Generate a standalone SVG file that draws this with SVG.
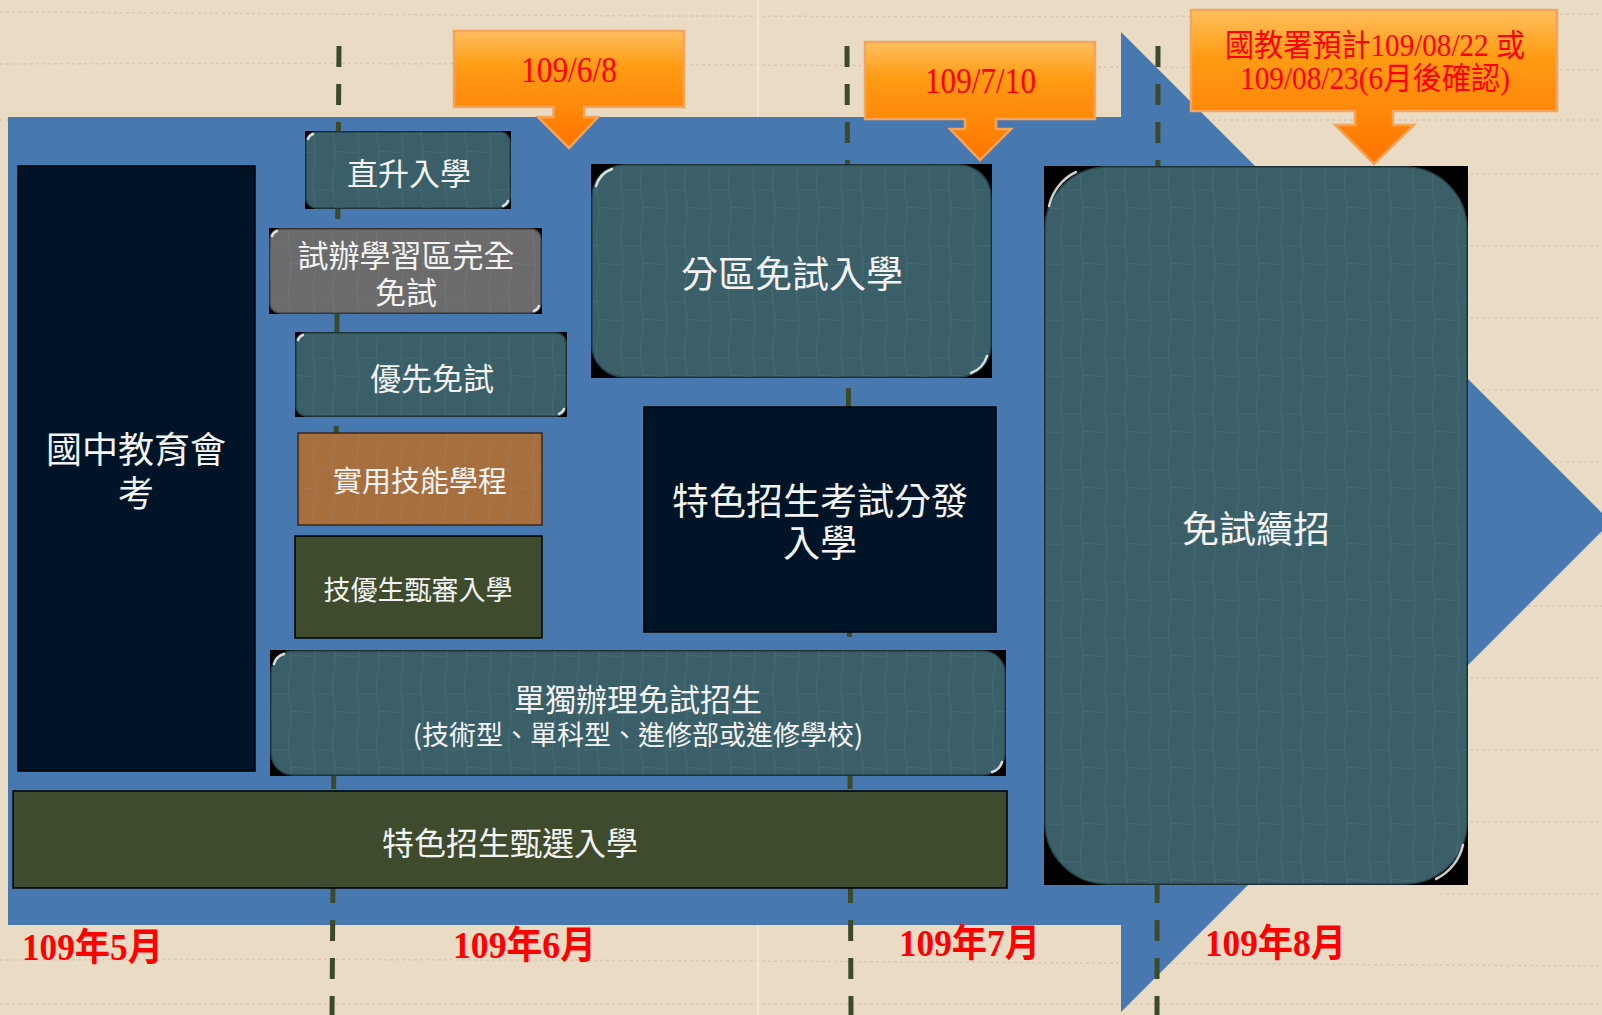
<svg xmlns="http://www.w3.org/2000/svg" width="1602" height="1015" viewBox="0 0 1602 1015">
<style>
.bgline{stroke:#d3c3ab;stroke-width:1.5;stroke-dasharray:3 3;fill:none;opacity:.8}
.dash{stroke:#3c4a2b;stroke-width:5;stroke-dasharray:21 17;fill:none}
.frame{fill:#000}
.teal{fill:#3b5f68;stroke:#27434a;stroke-width:1.5}
.gray{fill:#6b6b6b;stroke:#4a4a4a;stroke-width:1.5}
.tex{fill:url(#crackle)}
.navy{fill:#001428;stroke:#000;stroke-width:1.5}
.olive{fill:#3f4b2d;stroke:#000;stroke-width:1.5}
.brown{fill:#a86f3e;stroke:#3a2614;stroke-width:1.5}
.glint{fill:none;stroke:#fff;stroke-width:2.5;stroke-linecap:round;opacity:.8}
.lbl{font-family:"Noto Sans CJK TC","Noto Sans CJK SC",sans-serif;fill:#f3f3f3;text-anchor:middle}
.call{fill:url(#og);stroke:#f3a55c;stroke-width:2.5}
.ctxt{font-family:"Liberation Serif","Noto Sans CJK TC",serif;fill:#ff0000}
.mon{font-family:"Liberation Serif","Noto Sans CJK TC",serif;font-weight:bold;fill:#ff0000;font-size:38px}
</style>
<defs>
<linearGradient id="og" x1="0" y1="0" x2="0" y2="1">
<stop offset="0" stop-color="#ffbf5e"/>
<stop offset="0.3" stop-color="#ff9c14"/>
<stop offset="1" stop-color="#ff7400"/>
</linearGradient>
<pattern id="crackle" width="44" height="56" patternUnits="userSpaceOnUse">
<path d="M6 0 C2 16 10 34 6 56 M26 0 C21 18 30 38 26 56 M6 22 H26 M26 40 C34 38 40 42 50 40 M-18 40 C-10 38 -4 42 6 40" stroke="#7fa2a9" stroke-width="1" fill="none" opacity=".16"/>
</pattern>
</defs>

<g id="background">
<rect x="0" y="0" width="1602" height="1015" fill="#eadbc5"/>
<path class="bgline" d="M0 12 C400 14 900 20 1602 14"/>
<path class="bgline" d="M0 64 C400 62 900 66 1602 70"/>
<path class="bgline" d="M0 120 H1602"/>
<path class="bgline" d="M1440 174 H1602 M1440 246 H1602 M1440 318 H1602 M1440 390 H1602 M1440 462 H1602 M1480 534 H1602 M1480 606 H1602 M1440 678 H1602 M1440 750 H1602 M1440 822 H1602 M1440 894 H1602"/>
<path class="bgline" d="M0 960 C400 958 900 962 1602 966"/>
<path class="bgline" d="M0 1004 H1602"/>
<line x1="758" y1="0" x2="758" y2="1015" stroke="#f2e8d8" stroke-width="2"/>
</g>

<g id="timeline-arrow">
<path d="M8 117 H1121 V32 L1611 522 L1121 1012 V925 H8 Z" fill="#4779b0"/>
</g>

<g id="connectors">
<line class="dash" x1="339" y1="46" x2="332" y2="1015"/>
<line class="dash" x1="847" y1="46" x2="851" y2="1015"/>
<line class="dash" x1="1158" y1="46" x2="1157" y2="1015"/>
</g>

<g id="n-huikao">
<rect class="navy" x="18" y="166" width="237" height="605"/>
<text class="lbl" font-size="36"><tspan x="136" y="463">國中教育會</tspan><tspan x="136" y="507">考</tspan></text>
</g>

<g id="n-zhisheng">
<rect class="frame" x="305" y="131" width="206" height="78"/>
<rect class="teal" x="306" y="132" width="204" height="76" rx="10"/>
<rect class="tex" x="306" y="132" width="204" height="76" rx="10"/>
<path class="glint" d="M308 139 A8 8 0 0 1 313 134"/>
<path class="glint" d="M508 201 A8 8 0 0 1 503 206"/>
<text class="lbl" x="409" y="185" font-size="31">直升入學</text>
</g>

<g id="n-shiban">
<rect class="frame" x="269" y="228" width="273" height="86"/>
<rect class="gray" x="270" y="229" width="271" height="84" rx="10"/>
<rect class="tex" x="270" y="229" width="271" height="84" rx="10"/>
<path class="glint" d="M272 236 A8 8 0 0 1 277 231"/>
<path class="glint" d="M539 306 A8 8 0 0 1 534 311"/>
<text class="lbl" font-size="31"><tspan x="406" y="267">試辦學習區完全</tspan><tspan x="406" y="304">免試</tspan></text>
</g>

<g id="n-youxian">
<rect class="frame" x="295" y="332" width="272" height="85"/>
<rect class="teal" x="296" y="333" width="270" height="83" rx="10"/>
<rect class="tex" x="296" y="333" width="270" height="83" rx="10"/>
<path class="glint" d="M298 340 A8 8 0 0 1 303 335"/>
<path class="glint" d="M564 409 A8 8 0 0 1 559 414"/>
<text class="lbl" x="432" y="390" font-size="31">優先免試</text>
</g>

<g id="n-shiyong">
<rect class="brown" x="298" y="433" width="244" height="92"/>
<rect class="tex" x="299" y="434" width="242" height="90"/>
<text class="lbl" x="420" y="492" font-size="29">實用技能學程</text>
</g>

<g id="n-jiyou">
<rect class="olive" x="295" y="536" width="247" height="102"/>
<text class="lbl" x="418" y="600" font-size="27">技優生甄審入學</text>
</g>

<g id="n-dandu">
<rect class="frame" x="270" y="650" width="736" height="126"/>
<rect class="teal" x="271" y="651" width="734" height="124" rx="22"/>
<rect class="tex" x="271" y="651" width="734" height="124" rx="22"/>
<path class="glint" d="M274 664 A14 14 0 0 1 284 654"/>
<path class="glint" d="M1002 762 A14 14 0 0 1 992 772"/>
<text class="lbl"><tspan x="638" y="711" font-size="31">單獨辦理免試招生</tspan><tspan x="638" y="745" font-size="27">(技術型、單科型、進修部或進修學校)</tspan></text>
</g>

<g id="n-tese-zhenxuan">
<rect class="olive" x="13" y="791" width="994" height="97"/>
<text class="lbl" x="510" y="855" font-size="32">特色招生甄選入學</text>
</g>

<g id="n-fenqu">
<rect class="frame" x="591" y="164" width="401" height="214"/>
<rect class="teal" x="592" y="165" width="399" height="212" rx="32"/>
<rect class="tex" x="592" y="165" width="399" height="212" rx="32"/>
<path class="glint" d="M596 186 A26 26 0 0 1 612 169"/>
<path class="glint" d="M987 356 A26 26 0 0 1 971 373"/>
<text class="lbl" x="792" y="288" font-size="37">分區免試入學</text>
</g>

<g id="n-tese-kaoshi">
<rect class="navy" x="644" y="407" width="352" height="225"/>
<text class="lbl" font-size="37"><tspan x="820" y="515">特色招生考試分發</tspan><tspan x="820" y="557">入學</tspan></text>
</g>

<g id="n-xuzhao">
<rect class="frame" x="1044" y="166" width="424" height="719"/>
<rect class="teal" x="1045" y="167" width="422" height="717" rx="62"/>
<rect class="tex" x="1045" y="167" width="422" height="717" rx="62"/>
<path class="glint" d="M1049 206 A50 50 0 0 1 1076 172"/>
<path class="glint" d="M1463 845 A50 50 0 0 1 1436 879"/>
<text class="lbl" x="1256" y="543" font-size="37">免試續招</text>
</g>

<g id="c-0608">
<path class="call" d="M454 31 H684 V107 H584 V117 H598 L569 148 L538 117 H553.5 V107 H454 Z"/>
<text class="ctxt" x="521" y="82" font-size="35" textLength="96" lengthAdjust="spacingAndGlyphs">109/6/8</text>
</g>

<g id="c-0710">
<path class="call" d="M865 42 H1095 V119 H996 V129 H1011 L980 160 L950 129 H965 V119 H865 Z"/>
<text class="ctxt" x="925" y="93" font-size="35" textLength="111" lengthAdjust="spacingAndGlyphs">109/7/10</text>
</g>

<g id="c-0822">
<path class="call" d="M1191 10 H1557 V111 H1393 V125 H1414 L1374 164 L1335 125 H1355 V111 H1191 Z"/>
<text class="ctxt" font-size="31"><tspan x="1225" y="56" textLength="300" lengthAdjust="spacingAndGlyphs">國教署預計109/08/22 或</tspan><tspan x="1240" y="89" textLength="270" lengthAdjust="spacingAndGlyphs">109/08/23(6月後確認)</tspan></text>
</g>

<g id="months">
<text class="mon" x="22" y="960" textLength="141" lengthAdjust="spacingAndGlyphs">109年5月</text>
<text class="mon" x="453" y="958" textLength="143" lengthAdjust="spacingAndGlyphs">109年6月</text>
<text class="mon" x="899" y="956" textLength="141" lengthAdjust="spacingAndGlyphs">109年7月</text>
<text class="mon" x="1205" y="956" textLength="141" lengthAdjust="spacingAndGlyphs">109年8月</text>
</g>
</svg>
